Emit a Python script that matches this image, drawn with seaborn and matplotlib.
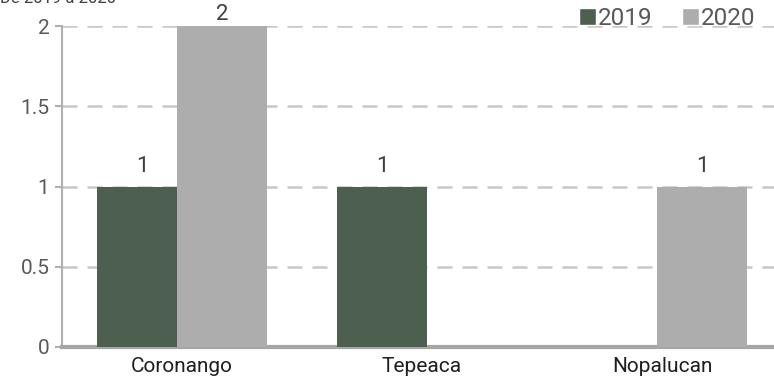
import pandas as pd
import numpy as np
import matplotlib.pyplot as plt
import seaborn as sns

# -------------------------
# Data
# -------------------------
municipios = ["Coronango", "Tepeaca", "Nopalucan"]
anios = ["2019", "2020"]
casos_2019 = [1, 1, 0]
casos_2020 = [2, 0, 1]

colores = {"2019": "#4d5f4e", "2020": "#adadad"}

df = pd.DataFrame({
    "municipio": municipios * 2,
    "anio": [anios[0]] * 3 + [anios[1]] * 3,
    "casos": casos_2019 + casos_2020,
})

# -------------------------
# Plot
# -------------------------
sns.set_style("white")
plt.rcParams["font.family"] = ["Roboto", "DejaVu Sans"]

fig = plt.figure(figsize=(7.74, 3.85), dpi=100)
ax = fig.add_axes([62 / 774, 38 / 385, 720 / 774, 321 / 385])

sns.barplot(data=df, x="municipio", y="casos", hue="anio", order=municipios,
            hue_order=anios, palette=colores, width=0.75, dodge=True,
            saturation=1, ax=ax, legend=True, zorder=3)

# pull the two bars of each group slightly together (they overlap a bit)
for cont, shift in zip(ax.containers, [0.021, -0.021]):
    for p in cont:
        p.set_x(p.get_x() + shift)
        p.set_linewidth(0)

# value labels, only for non-zero bars
ymax = 2
for cont in ax.containers:
    labels = [f"{v:g}" if v > 0 else "" for v in cont.datavalues]
    anns = ax.bar_label(cont, labels=labels, padding=7, fontsize=16,
                        color="#404040")
    # the top label is squeezed under the figure edge
    for a, v in zip(anns, cont.datavalues):
        if v >= ymax:
            a.xyann = (0, 1)

ax.set_xlim(-0.5, 2.5)
ax.set_ylim(0, ymax)
ax.set_yticks([0, 0.5, 1, 1.5, 2])
ax.set_yticklabels(["0", "0.5", "1", "1.5", "2"])
ax.set_xlabel("")
ax.set_ylabel("")

ax.yaxis.grid(True, color="#c8c8c8", linestyle=(0, (6, 4)), linewidth=1.8, zorder=0)
ax.set_axisbelow(True)

for s in ["top", "right"]:
    ax.spines[s].set_visible(False)
ax.spines["left"].set_color("#b0b0b0")
ax.spines["left"].set_linewidth(1.5)
ax.spines["bottom"].set_color("#a6a6a6")
ax.spines["bottom"].set_linewidth(3)

ax.tick_params(axis="y", which="both", left=True, length=5, width=1.5,
               color="#b0b0b0", labelsize=15, labelcolor="#595959", pad=4)
ax.tick_params(axis="x", bottom=False, labelsize=15, labelcolor="#1f1f1f", pad=4)

leg = ax.legend(loc="upper right", bbox_to_anchor=(0.977, 1.09), ncol=2,
                frameon=False, fontsize=17.5, handlelength=0.7, handleheight=0.7,
                handletextpad=0.1, columnspacing=1.2, borderaxespad=0)
for t in leg.get_texts():
    t.set_color("#595959")

# title is cut off at the top in the reference
fig.text(0.0, 1.003, "De 2019 a 2020", fontsize=12, color="#404040", va="center", ha="left")

plt.savefig("out.png", dpi=100)
plt.close()
